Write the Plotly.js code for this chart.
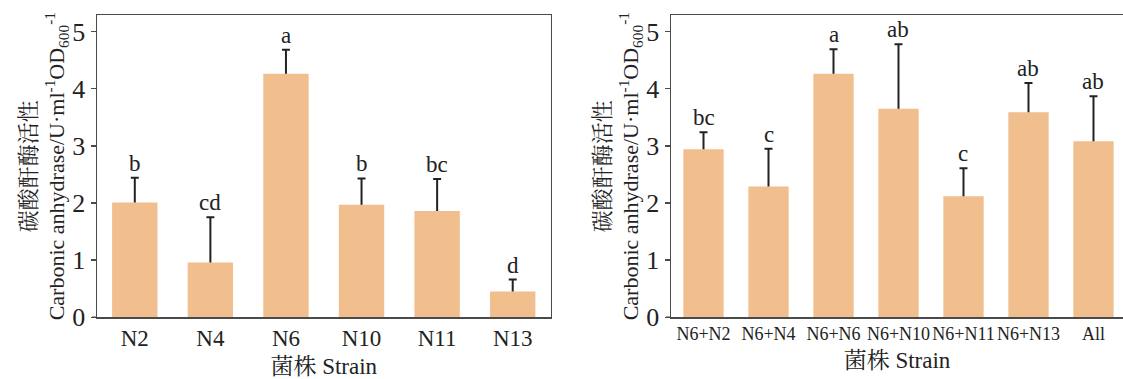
<!DOCTYPE html>
<html><head><meta charset="utf-8">
<script src="https://cdn.plot.ly/plotly-3.0.1.min.js"></script>
<style>html,body{margin:0;padding:0;background:#fff}</style>
</head><body><div id="chart" style="width:1123px;height:379px"></div>
<script>
// Single strains
const singleStrains = ['N2', 'N4', 'N6', 'N10', 'N11', 'N13'];
const singleMean = [2.01, 0.96, 4.26, 1.97, 1.86, 0.45];
const singleSD = [0.43, 0.79, 0.42, 0.46, 0.56, 0.21];
const singleLetters = ['b', 'cd', 'a', 'b', 'bc', 'd'];

// Combinations
const comboStrains = ['N6+N2', 'N6+N4', 'N6+N6', 'N6+N10', 'N6+N11', 'N6+N13', 'All'];
const comboMean = [2.94, 2.29, 4.26, 3.65, 2.12, 3.59, 3.08];
const comboSD = [0.30, 0.66, 0.43, 1.13, 0.49, 0.51, 0.79];
const comboLetters = ['bc', 'c', 'a', 'ab', 'c', 'ab', 'ab'];

const yTitle = '碳酸酐酶活性<br>Carbonic anhydrase/U·ml<sup>-1</sup>OD<sub>600</sub><sup>-1</sup>';
const xTitle = '菌株 Strain';

const BAR = '#F1BE8E';
const INK = '#222222';
const LINE = '#4a4a4a';
const FONT = '"Liberation Serif","Times New Roman","Noto Serif CJK SC","Noto Sans CJK SC",serif';

function tops(m, s) { return m.map((v, i) => v + s[i]); }

function panel(cats, mean, sd, xa, ya, w) {
  const bar = {
    type: 'bar', x: cats, y: mean, xaxis: xa, yaxis: ya, width: w,
    marker: {color: BAR, line: {width: 0}},
    error_y: {type: 'data', symmetric: false, array: sd, arrayminus: sd.map(() => 0),
              width: 0, thickness: 2, color: INK},
    hoverinfo: 'x+y'
  };
  const caps = {
    type: 'scatter', mode: 'markers', x: cats, y: tops(mean, sd), xaxis: xa, yaxis: ya,
    marker: {size: 1, opacity: 0},
    error_y: {type: 'constant', value: 0, width: 4, thickness: 2, color: INK},
    hoverinfo: 'skip'
  };
  return [bar, caps];
}

function letters(cats, mean, sd, labs, xa, ya) {
  return cats.map((c, i) => ({
    x: c, y: mean[i] + sd[i], xref: xa, yref: ya, text: labs[i],
    showarrow: false, yanchor: 'bottom', yshift: 0,
    font: {family: FONT, size: 23, color: INK}
  }));
}

const data = [
  ...panel(singleStrains, singleMean, singleSD, 'x', 'y', 0.6),
  ...panel(comboStrains, comboMean, comboSD, 'x2', 'y2', 0.62)
];

const W = 1123, H = 379;
const yDom = [61.7 / H, 364 / H];
const yRange = [0, 5.29];

function yAxis(anchor, mirror) {
  return {
    anchor: anchor, domain: yDom, range: yRange, dtick: 1,
    showline: true, mirror: mirror, linecolor: LINE, linewidth: 1.5,
    ticks: 'outside', ticklen: 5, tickwidth: 1.5, tickcolor: LINE,
    showgrid: false, zeroline: false,
    tickfont: {family: FONT, size: 26, color: INK},
    title: {text: yTitle, font: {family: FONT, size: 22, color: INK}, standoff: 1},
    fixedrange: true
  };
}
function xAxis(anchor, dom, range, fs) {
  return {
    anchor: anchor, domain: dom, range: range, type: 'category',
    showline: true, mirror: true, linecolor: LINE, linewidth: 1.5,
    ticks: '', tickangle: 0, showgrid: false, zeroline: false,
    tickfont: {family: FONT, size: fs, color: INK},
    title: {text: xTitle, font: {family: FONT, size: 23, color: INK}, standoff: 8},
    fixedrange: true
  };
}

const layout = {
  width: W, height: H, margin: {l: 0, r: 0, t: 0, b: 0}, showlegend: false,
  paper_bgcolor: '#fff', plot_bgcolor: '#fff',
  font: {family: FONT, color: INK},
  xaxis: xAxis('y', [97 / W, 550.5 / W], [-0.5, 5.5], 23),
  yaxis: yAxis('x', true),
  xaxis2: xAxis('y2', [671 / W, 1], [-0.5, 6.454], 18),
  yaxis2: yAxis('x2', false),
  annotations: [
    ...letters(singleStrains, singleMean, singleSD, singleLetters, 'x', 'y'),
    ...letters(comboStrains, comboMean, comboSD, comboLetters, 'x2', 'y2')
  ],
  shapes: [
    {type: 'line', xref: 'paper', yref: 'y', x0: 92 / W, x1: 97 / W, y0: 0, y1: 0, line: {color: LINE, width: 1.5}},
    {type: 'line', xref: 'paper', yref: 'y2', x0: 666 / W, x1: 671 / W, y0: 0, y1: 0, line: {color: LINE, width: 1.5}}
  ]
};

Plotly.newPlot('chart', data, layout, {displayModeBar: false, staticPlot: true});
</script>
</body></html>
